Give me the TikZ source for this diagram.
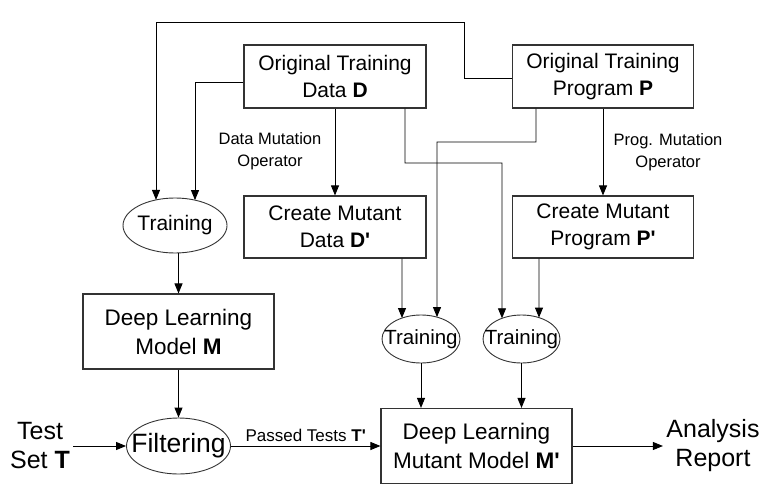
\documentclass[tikz,border=0pt]{standalone}
\usepackage{fontspec}
\setmainfont{Liberation Sans}[Ligatures=TeXOff]
\usetikzlibrary{arrows.meta,shapes.geometric,intersections,calc}
\newcommand\hitx[3]{%
  \path[name path=vline#3] (#2,0) -- (#2,495);
  \path[name intersections={of=#1 and vline#3, sort by=vline#3, by={#3}}];}
\begin{document}
\begin{tikzpicture}[x=1pt,y=-1pt,
  box/.style={draw=black!80, line width=1.1pt, rectangle, inner sep=0pt, align=center,
    font=\fontsize{21}{27.5}\selectfont},
  bigbox/.style={box, font=\fontsize{22.5}{29}\selectfont},
  ell/.style={draw=black!80, line width=0.9pt, ellipse, inner sep=0pt},
  arr/.style={line width=0.9pt, -{Triangle[length=10pt,width=8pt]}},
  lbl/.style={align=center, font=\fontsize{16.5}{22}\selectfont},
  big/.style={align=center, font=\fontsize{25}{29}\selectfont}]
\useasboundingbox (0,0) rectangle (763,495);

% boxes
\node[box, minimum width=182pt, minimum height=63pt] (D) at (335,76.5) {Original Training\\Data \textbf{D}};
\node[box, minimum width=181pt, minimum height=63pt] (P) at (603,76.5) {Original Training\\Program \textbf{P}};
\node[box, minimum width=182pt, minimum height=62pt] (Dp) at (335,227) {Create Mutant\\Data \textbf{D'}};
\node[box, minimum width=181pt, minimum height=62pt] (Pp) at (603,227) {Create Mutant\\Program \textbf{P'}};
\node[bigbox, minimum width=191pt, minimum height=75pt] (M) at (178.5,331.5) {Deep Learning\\Model \textbf{M}};
\node[bigbox, minimum width=191pt, minimum height=75pt] (Mp) at (476.5,446) {Deep Learning\\Mutant Model \textbf{M'}};

% ellipses
\node[ell, minimum width=104pt, minimum height=55pt, name path=T1e,
  label={[font=\fontsize{21}{24}\selectfont]center:Training}] (T1) at (175,225.5) {};
\node[ell, minimum width=78pt, minimum height=48pt, name path=T2e,
  label={[font=\fontsize{20.5}{24}\selectfont]center:Training}] (T2) at (421,339) {};
\node[ell, minimum width=77pt, minimum height=48pt, name path=T3e,
  label={[font=\fontsize{20.5}{24}\selectfont]center:Training}] (T3) at (521.5,339) {};
\node[ell, minimum width=104pt, minimum height=56pt, name path=Fe,
  label={[font=\fontsize{26.5}{30}\selectfont]center:Filtering}] (F) at (178.5,446) {};

% free texts
\node[big] (T) at (40,446) {Test\\Set \textbf{T}};
\node[big] (A) at (713,446) {Analysis\\Report};
\node[lbl] (dmo) at (270,151) {Data Mutation\\Operator};
\node[lbl] (pmo) at (668,152) {Prog. Mutation\\Operator};

% hit points on ellipses
\hitx{T1e}{156}{t1a}
\hitx{T1e}{195}{t1b}
\hitx{T2e}{437}{t2a}
\hitx{T2e}{402}{t2b}
\hitx{T3e}{502}{t3a}
\hitx{T3e}{539}{t3b}

% connectors
\draw[arr] ([yshift=-1.5pt]P.west) -| (464,22) -| (t1a);
\draw[arr] ([yshift=-5.5pt]D.west) -| (t1b);
\draw[arr] (D.south) -- (Dp.north);
\draw[arr] ($(D.south)+(70,0)$) |- (502,163) -- (t3a);
\draw[arr] ($(P.south)+(-67,0)$) |- (437,142) -- (t2a);
\draw[arr] (P.south) -- (Pp.north);
\draw[arr] ($(Dp.south)+(67,0)$) -- (t2b);
\draw[arr] ($(Pp.south)+(-64,0)$) -- (t3b);
\draw[arr] (T1.south -| M.north) -- (M.north);
\draw[arr] (M.south) -- (F.north);
\draw[arr] (T2.south) -- (T2.south |- Mp.north);
\draw[arr] (T3.south) -- (T3.south |- Mp.north);
\draw[arr] (T.east) -- (F.west);
\draw[arr] (F.east) -- (Mp.west) node[midway, above=1pt, font=\fontsize{17}{22}\selectfont] (pt) {Passed Tests \textbf{T'}};
\draw[arr] (Mp.east) -- (A.west);
\end{tikzpicture}
\end{document}
